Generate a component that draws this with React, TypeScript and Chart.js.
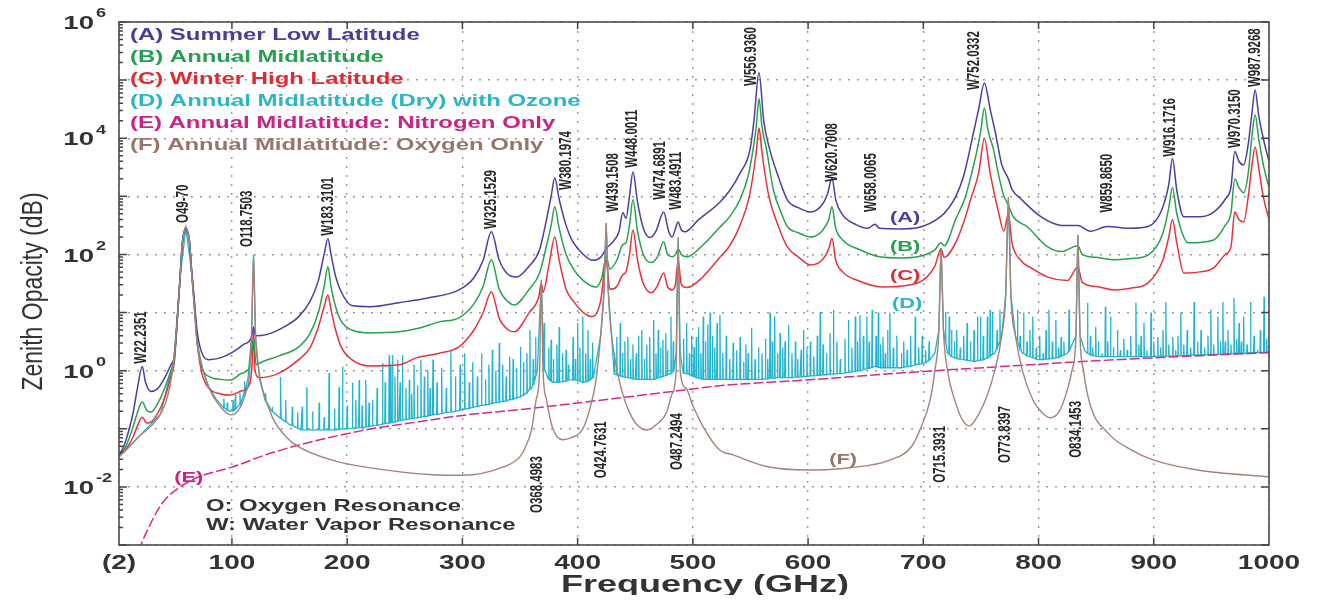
import React, { useEffect, useRef } from 'react';
import { Chart, registerables } from 'chart.js';
Chart.register(...registerables);

// ---------- axis ticks ----------
const X_TICKS = [2, 100, 200, 300, 400, 500, 600, 700, 800, 900, 1000];
const X_TICK_LABELS = ['(2)', '100', '200', '300', '400', '500', '600', '700', '800', '900', '1000'];
const Y_DECADE_EXP = [-3, -2, -1, 0, 1, 2, 3, 4, 5, 6];
const Y_LABEL_EXP = [-2, 0, 2, 4, 6];

// ---------- series labels / colours ----------
const SERIES_LABELS = [
  '(A) Summer Low Latitude',
  '(B) Annual Midlatitude',
  '(C) Winter High Latitude',
  '(D) Annual Midlatitude (Dry) with Ozone',
  '(E) Annual Midlatitude: Nitrogen Only',
  '(F) Annual Midlatitude: Oxygen Only',
];
const SERIES_COLORS = ['#4b3ea0', '#27a24c', '#e5333b', '#1fb4cf', '#d42a8c', '#a4837a'];
const LEGEND_COLORS = ['#4a3c9a', '#25a050', '#dd2b33', '#2bb5c9', '#cc2288', '#97756a'];

// ---------- series values: [frequency GHz, log10(opacity dB)] ----------
const A_LOG = [[2,-1.48],[8,-1.2],[14,-0.75],[18,-0.3],[22.2,0.07],[25,-0.2],[30,-0.36],[36,-0.3],[42,-0.11],[47,0.1],[50,0.25],[53,1.0],[55,1.6],[57,2.2],[59,2.42],[60,2.46],[61,2.42],[63,2.25],[65,1.75],[67,1.3],[70,0.65],[74,0.3],[80,0.19],[90,0.22],[100,0.31],[110,0.45],[117,0.58],[118.75,0.75],[120.5,0.6],[130,0.62],[145,0.75],[158,0.93],[168,1.2],[175,1.55],[180,2.0],[183.3,2.27],[186,2.0],[190,1.62],[195,1.35],[204,1.12],[220,1.1],[245,1.17],[270,1.25],[297,1.39],[310,1.6],[318,1.9],[325.15,2.39],[332,1.9],[340,1.65],[347,1.61],[358,1.8],[367,2.08],[373,2.6],[377,3.0],[380.2,3.32],[384,2.95],[390,2.5],[395,2.25],[405,2.0],[413,1.9],[420,1.95],[424.8,2.1],[432,2.25],[436,2.4],[439.15,2.72],[442,2.62],[445,3.0],[448,3.42],[452,2.9],[457,2.45],[463,2.29],[468,2.4],[474.7,2.73],[479,2.4],[482,2.3],[485,2.45],[487.2,2.56],[490,2.42],[493,2.39],[505,2.6],[523,2.89],[532,3.1],[541,3.4],[549.6,3.8],[553,4.3],[557.4,5.13],[561.5,4.3],[566.8,3.8],[574,3.35],[582,2.94],[592,2.8],[602,2.73],[612,2.85],[617,3.05],[620.7,3.32],[624,2.94],[630,2.68],[642,2.51],[652,2.45],[658,2.52],[662,2.45],[680,2.44],[695,2.46],[715,2.65],[722,2.8],[728,2.99],[735,3.35],[743.5,4.09],[748,4.5],[753,4.95],[758,4.5],[762.6,4.09],[768,3.55],[773.8,3.3],[777,3.12],[785,2.95],[802,2.65],[820,2.5],[834.1,2.5],[845,2.4],[859.9,2.48],[880,2.45],[895,2.48],[907,2.77],[913,3.2],[916.2,3.65],[920,3.1],[926,2.65],[940,2.65],[952,2.73],[962,2.95],[967,3.16],[970.3,3.77],[974,3.6],[978,3.54],[982,3.9],[985,4.4],[988,4.83],[991,4.4],[995,4.0],[1000,3.6]];

const B_LOG = [[2,-1.48],[8,-1.3],[14,-0.98],[18,-0.72],[22.2,-0.54],[26,-0.68],[30,-0.71],[36,-0.55],[42,-0.28],[47,0.0],[50,0.2],[53,1.0],[55,1.6],[57,2.2],[59,2.42],[60,2.46],[61,2.42],[63,2.25],[65,1.72],[67,1.25],[70,0.5],[74,0.05],[80,-0.1],[90,-0.15],[99,-0.16],[108,-0.05],[115,0.05],[118.75,0.55],[121,0.1],[126,0.15],[140,0.25],[158,0.41],[168,0.65],[175,1.0],[180,1.45],[183.3,1.79],[186,1.45],[190,1.1],[195,0.85],[204,0.7],[220,0.65],[245,0.67],[260,0.72],[280,0.84],[297,0.91],[310,1.15],[318,1.45],[325.15,1.91],[332,1.4],[340,1.18],[345,1.13],[358,1.4],[367,1.68],[373,2.15],[377,2.5],[380.2,2.82],[384,2.45],[390,2.0],[397,1.73],[405,1.55],[416,1.44],[421,1.6],[424.8,1.96],[428,1.75],[434,1.9],[439.15,2.17],[442,2.2],[445,2.5],[448,2.94],[452,2.4],[457,2.0],[464,1.86],[469,1.95],[474.7,2.22],[478,2.0],[482,1.96],[485,2.0],[487.25,2.1],[490,2.0],[495,1.96],[508,2.15],[523,2.46],[532,2.65],[541,2.95],[548,3.35],[552.2,3.8],[555,4.2],[557.4,4.68],[560,4.2],[564,3.8],[570,3.1],[576,2.75],[582,2.48],[592,2.37],[602,2.3],[612,2.4],[618,2.6],[620.7,2.82],[624,2.45],[630,2.25],[645,2.08],[662,1.96],[680,1.94],[695,1.96],[710,2.08],[715.4,2.2],[718,2.15],[728,2.6],[736.5,2.99],[742,3.4],[746.7,3.8],[750,4.15],[753,4.52],[756,4.15],[761,3.8],[765,3.4],[770,3.0],[773.8,2.85],[778,2.65],[790,2.48],[808,2.13],[820,2.05],[834.1,2.15],[838,2.0],[850,1.95],[866,1.91],[880,1.93],[895,1.99],[908,2.37],[913,2.8],[916.2,3.15],[920,2.7],[930,2.2],[952,2.25],[962,2.5],[967,2.72],[970.3,3.3],[974,3.15],[978,3.06],[982,3.4],[985,4.0],[988,4.4],[991,4.0],[995,3.55],[1000,3.15]];

const C_LOG = [[2,-1.48],[8,-1.35],[14,-1.15],[18,-0.95],[22.2,-0.8],[26,-0.9],[30,-0.88],[36,-0.72],[42,-0.45],[47,-0.1],[50,0.15],[53,1.0],[55,1.6],[57,2.2],[59,2.42],[60,2.46],[61,2.42],[63,2.25],[65,1.7],[67,1.2],[70,0.45],[74,-0.05],[80,-0.3],[90,-0.4],[99,-0.42],[108,-0.35],[115,-0.25],[117.5,0.1],[118.75,0.7],[120,0.0],[124,-0.12],[140,-0.05],[158,0.19],[168,0.4],[175,0.75],[180,1.1],[183.3,1.3],[186,1.05],[190,0.7],[195,0.4],[204,0.19],[220,0.08],[245,0.1],[260,0.22],[280,0.3],[297,0.41],[310,0.7],[318,1.0],[325.15,1.36],[332,0.9],[340,0.7],[345,0.67],[358,1.0],[366,1.25],[368.5,1.5],[370,1.35],[375,1.8],[380.2,2.3],[384,1.9],[390,1.4],[397,1.18],[405,1.0],[413,0.93],[420,1.2],[424.8,1.9],[428,1.4],[434,1.45],[439.15,1.65],[442,1.7],[445,2.0],[448,2.42],[452,1.9],[457,1.5],[464,1.34],[469,1.45],[474.7,1.68],[478,1.45],[482,1.39],[485,1.5],[487.25,1.9],[490,1.48],[495,1.43],[508,1.6],[523,1.94],[532,2.15],[541,2.5],[549,3.0],[555,3.75],[557.4,4.18],[560,3.75],[566,3.0],[574,2.5],[582,2.13],[592,1.95],[602,1.82],[612,1.9],[618,2.1],[620.7,2.28],[624,1.9],[630,1.7],[642,1.56],[665,1.44],[695,1.51],[710,1.8],[715.4,2.1],[718,1.95],[728,2.2],[735,2.55],[741,2.94],[748,3.4],[753,4.0],[758,3.4],[765,2.75],[770,2.4],[773.8,2.7],[777,2.2],[784,1.91],[795,1.75],[808,1.61],[825,1.55],[834.1,1.78],[838,1.52],[850,1.45],[865,1.39],[880,1.42],[895,1.51],[908,1.91],[913,2.3],[916.2,2.6],[920,2.2],[926,1.68],[940,1.7],[952,1.77],[962,2.0],[967,2.13],[970.3,2.73],[974,2.6],[978,2.56],[982,3.0],[985,3.5],[988,3.85],[991,3.5],[995,3.0],[1000,2.6]];

const D_BASE_LOG = [[2,-1.48],[20,-1.12],[38,-0.75],[49.6,0.19],[55,1.6],[60,2.46],[65,1.7],[70,0.45],[75,0.0],[80,-0.28],[86,-0.48],[92,-0.62],[98,-0.7],[104,-0.64],[110,-0.42],[114,-0.12],[117,0.6],[118.75,1.99],[120.5,0.6],[124,-0.15],[129,-0.52],[135,-0.7],[142,-0.82],[150,-0.93],[160,-1.02],[187,-1.02],[216,-0.97],[245,-0.86],[274,-0.76],[300,-0.66],[330,-0.55],[350,-0.45],[360,-0.3],[365,0.0],[368.5,1.56],[372,0.0],[380,-0.2],[393,-0.16],[405,-0.2],[414,-0.08],[420,0.6],[423,1.4],[424.76,2.54],[426.5,1.4],[429.5,0.6],[436,-0.08],[450,-0.15],[465,-0.15],[480,-0.05],[485.5,0.3],[487.25,2.29],[489,0.3],[495,-0.05],[510,-0.15],[550,-0.15],[593,-0.11],[630,-0.05],[657,0.07],[680,0.05],[700,0.12],[710,0.3],[713.5,0.7],[715.39,2.11],[717.5,0.7],[721,0.3],[730,0.2],[745,0.16],[762,0.3],[768,0.6],[771.5,1.3],[773.84,2.99],[776,1.3],[780,0.6],[786,0.3],[800,0.19],[825,0.3],[832.5,0.6],[834.15,2.34],[836,0.6],[840,0.35],[851,0.24],[895,0.24],[950,0.28],[1000,0.32]];

// ozone / weak lines of (D): [frequency, foot log10, top log10]
const D_SPIKES_LOG = [[93,-0.64,-0.48],[96,-0.68,-0.55],[101,-0.69,-0.5],[103,-0.66,-0.42],[107,-0.58,-0.38],[111,-0.38,-0.18],
[129.3,-0.52,-0.38],[135,-0.7,-0.62],[142.3,-0.82,-0.11],[146.7,-0.88,-0.5],[152.4,-0.94,-0.62],[157,-0.99,-0.72],[161,-1.02,-0.62],[165,-1.02,-0.28],[170,-1.02,-0.7],[175.7,-1.02,-0.55],[180,-1.02,-0.8],[184.3,-1.02,-0.04],[189,-1.02,-0.65],[193,-1.01,-0.28],[196,-1.0,0.07],[200,-1.0,-0.6],[204.6,-0.99,-0.21],[207.5,-0.99,-0.5],[210.4,-0.98,-0.16],[213,-0.98,-0.6],[216.3,-0.97,-0.16],[219,-0.96,-0.55],[222,-0.95,-0.5],[226,-0.94,-0.3],[230.7,-0.92,0.13],[233,-0.91,-0.2],[236.5,-0.9,0.27],[238,-0.89,0.1],[239.4,-0.89,0.27],[241.5,-0.88,-0.1],[243.7,-0.87,0.19],[246,-0.86,-0.2],[248,-0.85,0.27],[251,-0.84,-0.3],[254,-0.83,-0.16],[256,-0.82,-0.4],[258,-0.82,0.1],[261,-0.81,-0.25],[264,-0.8,0.19],[267,-0.79,-0.1],[270,-0.78,0.01],[272,-0.77,-0.3],[274.5,-0.76,0.19],
[278,-0.75,-0.2],[282,-0.74,0.05],[286,-0.72,-0.3],[290,-0.71,0.36],[294,-0.7,-0.1],[298,-0.68,0.1],[302,-0.66,0.3],[306,-0.65,-0.2],[309,-0.63,0.15],[313,-0.61,-0.1],[316.6,-0.6,0.3],[320,-0.59,-0.15],[323,-0.58,0.1],[326,-0.56,0.36],[329,-0.55,0.0],[332,-0.54,0.48],[335,-0.53,0.1],[338,-0.52,-0.1],[341,-0.5,0.24],[344,-0.49,0.2],[347,-0.47,0.05],[350.5,-0.45,0.41],[353,-0.42,0.15],[356,-0.38,0.3],[358.6,-0.32,0.7],[361.5,-0.25,0.2],[363.5,-0.1,0.58],[371,0.0,0.82],[375,-0.15,0.4],[377,-0.18,0.53],[379,-0.2,0.2],[382,-0.2,0.45],[384,-0.2,0.75],[387,-0.19,0.3],[390,-0.18,0.36],[392,-0.16,0.1],[396,-0.16,0.58],[398,-0.16,0.2],[400,-0.17,0.82],[402,-0.18,0.4],[404.5,-0.2,0.93],[407,-0.19,0.3],[409,-0.18,0.7],[411,-0.15,0.2],[413,-0.12,0.48],
[432,-0.05,0.3],[434,-0.07,0.58],[437,-0.09,0.82],[439,-0.1,0.3],[441,-0.11,0.5],[443.6,-0.12,0.58],[446,-0.13,0.2],[448,-0.14,0.45],[451,-0.15,0.3],[453,-0.15,0.6],[455.7,-0.15,0.7],[458,-0.15,0.2],[460,-0.15,0.45],[462.6,-0.15,0.58],[466,-0.15,0.87],[468,-0.14,0.3],[470,-0.12,0.7],[472,-0.11,0.4],[474,-0.1,0.53],[476.5,-0.08,0.65],[478,-0.07,0.35],[481,-0.05,0.93],[483,-0.02,0.5],
[492,-0.04,0.55],[494.6,-0.05,0.82],[497,-0.07,0.3],[499,-0.09,0.6],[501,-0.1,0.4],[503,-0.12,0.58],[505,-0.13,0.75],[507,-0.14,0.3],[509,-0.15,0.93],[511,-0.15,0.5],[513,-0.15,0.8],[515,-0.15,1.0],[517,-0.15,0.6],[519,-0.15,0.4],[521,-0.15,0.82],[523.5,-0.15,0.96],[526,-0.15,0.3],[529,-0.15,0.6],[532,-0.15,0.2],[535,-0.15,0.48],[538,-0.15,0.35],[541,-0.15,0.58],[544,-0.15,0.15],[546,-0.15,0.45],[548,-0.15,0.3],[551,-0.15,0.74],[554,-0.15,0.2],[557,-0.15,0.4],
[560,-0.15,0.3],[563,-0.14,0.55],[565,-0.14,0.2],[567,-0.13,1.0],[569,-0.13,0.5],[571,-0.13,0.93],[573.5,-0.12,0.3],[575.7,-0.12,0.65],[578,-0.12,0.4],[580,-0.12,0.5],[583,-0.12,0.79],[586,-0.12,0.3],[589,-0.11,0.5],[591,-0.11,0.2],[594,-0.11,0.36],[596,-0.1,0.7],[599,-0.1,0.4],[602,-0.09,0.5],[605,-0.09,0.25],[608,-0.08,0.6],[610.5,-0.08,1.01],[613,-0.07,0.45],[616,-0.07,0.3],[619,-0.06,0.65],[622,-0.06,1.05],[625,-0.05,0.5],[628,-0.05,0.2],[632,-0.04,0.55],[635,-0.03,0.87],[638,-0.02,0.4],[641,-0.01,0.93],[643,0.0,0.5],[645,0.0,0.96],[648,0.02,0.6],[651,0.03,0.93],[653,0.04,0.5],[655.6,0.06,1.05],[659,0.07,0.6],[661,0.06,1.0],[663,0.05,0.45],[665,0.05,0.58],[667,0.05,0.3],[669,0.05,0.7],[671,0.05,1.0],[674,0.05,0.4],[677,0.05,0.6],[681,0.05,0.3],[683,0.06,0.5],[686,0.07,0.36],[689,0.08,0.6],[693,0.1,0.93],[696,0.11,0.4],[699,0.12,0.6],[702,0.14,0.35],[705,0.18,0.5],
[719.3,0.5,1.01],[722.5,0.28,0.93],[724.5,0.24,0.7],[727,0.22,0.5],[729,0.21,0.7],[732,0.2,0.4],[735,0.19,0.6],[738,0.18,0.82],[741,0.17,0.5],[744,0.16,0.7],[747,0.17,0.93],[749.6,0.18,0.93],[752,0.19,0.6],[755.6,0.22,0.93],[758,0.25,1.05],[760,0.28,1.0],[764,0.4,0.7],[766.5,0.5,1.05],
[781.7,0.5,1.05],[784,0.38,0.6],[787,0.3,1.0],[790,0.26,0.5],[792.5,0.24,0.7],[795,0.22,0.93],[798,0.2,0.4],[801,0.19,0.6],[804,0.19,0.3],[806.5,0.2,0.7],[809,0.2,1.05],[812,0.21,0.5],[815,0.22,0.87],[817.5,0.23,0.4],[819.6,0.25,0.58],[822,0.27,0.5],[826.5,0.35,1.05],
[842.5,0.3,1.17],[845,0.27,0.6],[847,0.26,0.4],[849.6,0.25,0.75],[852,0.24,0.5],[855,0.24,0.3],[858,0.24,1.1],[860,0.24,0.5],[862.5,0.24,0.93],[865,0.24,0.4],[868.5,0.24,0.7],[871,0.24,0.35],[874,0.24,0.55],[877,0.24,0.36],[880,0.24,0.6],[884.5,0.24,1.17],[887,0.24,0.45],[889,0.24,0.6],[891.5,0.24,0.82],[894,0.24,0.35],[897.6,0.24,1.0],[900,0.24,0.5],[903.5,0.25,0.58],[906,0.25,0.4],[908,0.25,0.7],[910.5,0.25,1.18],[913,0.25,0.45],[916.5,0.25,0.58],[919,0.25,0.35],[921,0.26,0.6],[923.5,0.26,1.0],[926,0.26,0.45],[929,0.26,0.7],[932,0.27,0.4],[935,0.27,1.18],[938,0.27,0.5],[941,0.27,0.7],[944,0.27,0.4],[947,0.28,0.6],[949.5,0.28,1.05],[952,0.28,0.45],[955.6,0.28,0.93],[958,0.28,0.5],[960,0.29,1.18],[962,0.29,0.5],[964.4,0.29,0.7],[967,0.29,0.45],[969.6,0.3,1.25],[972,0.3,0.55],[974,0.3,0.82],[976,0.3,0.5],[978,0.3,0.93],[981,0.3,0.45],[984,0.31,1.18],[987,0.31,0.6],[990,0.31,0.36],[992.5,0.31,0.7],[995.7,0.32,1.27],[998,0.32,0.55]];

const E_LOG = [[19,-3.1],[22,-2.95],[28,-2.69],[35,-2.42],[42,-2.22],[55,-2.0],[71,-1.83],[85,-1.74],[100,-1.66],[129,-1.45],[158,-1.28],[216,-1.02],[262,-0.88],[300,-0.77],[350,-0.67],[436,-0.47],[506,-0.3],[523,-0.26],[599,-0.16],[680,-0.04],[767,0.07],[850,0.17],[920,0.24],[1000,0.31]];

const F_LOG = [[2,-1.48],[10,-1.33],[20,-1.12],[30,-0.95],[38,-0.75],[45,-0.38],[49.6,0.19],[53,1.0],[55,1.6],[57,2.2],[59,2.42],[60,2.46],[61,2.42],[63,2.25],[65,1.7],[67,1.2],[70,0.45],[75,0.0],[80,-0.3],[90,-0.62],[99,-0.76],[106,-0.67],[112,-0.38],[115,-0.11],[117,0.6],[118.75,1.99],[120.5,0.6],[123.5,0.0],[126,-0.28],[135,-0.8],[147,-1.14],[158,-1.31],[187,-1.54],[216,-1.66],[274,-1.79],[300,-1.8],[335,-1.66],[350,-1.48],[355,-1.3],[360,-1.02],[364,-0.5],[367,0.0],[368.5,1.56],[370,0.0],[373,-0.5],[378,-0.97],[387,-1.19],[395,-1.15],[404,-1.02],[410,-0.7],[416,-0.16],[420,0.6],[423,1.4],[424.76,2.54],[426.5,1.4],[429.5,0.6],[436,-0.16],[447,-0.8],[460,-1.02],[470,-0.9],[477,-0.73],[482,-0.4],[485.5,0.0],[487.25,2.29],[489,0.0],[494,-0.3],[500,-0.6],[510,-1.0],[523,-1.36],[535,-1.45],[564,-1.65],[600,-1.71],[636,-1.67],[671,-1.54],[690,-1.3],[697,-1.02],[706,-0.5],[710,0.0],[713.5,0.7],[715.39,2.11],[717.5,0.7],[721,0.0],[728,-0.55],[734,-0.85],[740,-0.95],[748,-0.75],[755,-0.45],[762,0.0],[768,0.6],[771.5,1.3],[773.84,2.99],[776,1.3],[780,0.6],[786,0.0],[795,-0.5],[803,-0.72],[810,-0.81],[818,-0.7],[825,-0.33],[829,0.0],[832.5,0.6],[834.15,2.34],[836,0.6],[839,0.0],[845,-0.6],[860,-1.07],[880,-1.36],[900,-1.54],[938,-1.71],[1000,-1.83]];

// ---------- annotations: [text, frequency, log10 value at text foot] ----------
const LINE_LABELS = [
  ['W22.2351', 21.7, 0.12], ['O49-70', 58.3, 2.54], ['O118.7503', 113.2, 2.13], ['W183.3101', 183.5, 2.32],
  ['W325.1529', 325.2, 2.44], ['W380.1974', 390.4, 3.11], ['W439.1508', 431.3, 2.73], ['W448.0011', 447.8, 3.49],
  ['W474.6891', 472.1, 2.94], ['W483.4911', 486, 2.77], ['W556.9360', 551.3, 4.9], ['W620.7008', 621.6, 3.25],
  ['W658.0065', 655.5, 2.73], ['W752.0332', 744.3, 4.83], ['W859.8650', 859.9, 2.72], ['W916.1716', 914.7, 3.68],
  ['W970.3150', 971.2, 3.83], ['W987.9268', 988.6, 4.88],
  ['O368.4983', 365.3, -2.45], ['O424.7631', 420.9, -1.85], ['O487.2494', 487, -1.71],
  ['O715.3931', 714.8, -1.93], ['O773.8397', 771.3, -1.59], ['O834.1453', 833, -1.5],
];
const CURVE_TAGS = [['(A)', 684.3, 2.63, 0], ['(B)', 684.3, 2.13, 1], ['(C)', 684.3, 1.63, 2], ['(D)', 686, 1.15, 3], ['(E)', 62.6, -1.85, 4], ['(F)', 630.4, -1.54, 5]];
const NOTE_LINES = [['O: Oxygen Resonance', 77.4, -2.34], ['W: Water Vapor Resonance', 77.4, -2.66]];
const X_TITLE = 'Frequency (GHz)';
const Y_TITLE = 'Zenith Opacity (dB)';

const toPts = (arr: number[][]) => arr.map(([f, l]) => ({ x: f, y: Math.pow(10, l) }));

function buildD() {
  const rows: number[][] = D_BASE_LOG.map((r) => [r[0], r[1]]);
  D_SPIKES_LOG.forEach(([f, b, t]) => {
    rows.push([f - 0.35, b], [f, t], [f + 0.35, b]);
  });
  rows.sort((a, b) => a[0] - b[0]);
  return toPts(rows);
}

const SANS = "'Liberation Sans', Arial, Helvetica, sans-serif";

function drawText(ctx: CanvasRenderingContext2D, s: string, x: number, y: number, font: string, color: string, align: CanvasTextAlign, sx: number, rot = 0) {
  ctx.save();
  ctx.translate(x, y);
  ctx.scale(sx, 1);
  if (rot) ctx.rotate(rot);
  ctx.font = font;
  ctx.fillStyle = color;
  ctx.textAlign = align;
  ctx.textBaseline = 'middle';
  ctx.fillText(s, 0, 0);
  ctx.restore();
}

const decor = {
  id: 'decor',
  afterDraw(chart: any) {
    const { ctx, chartArea: ca, scales } = chart;
    const xs = scales.x, ys = scales.y;
    ctx.save();
    // frame
    ctx.strokeStyle = '#4d4d4d';
    ctx.lineWidth = 1.6;
    ctx.strokeRect(ca.left, ca.top, ca.right - ca.left, ca.bottom - ca.top);
    ctx.lineWidth = 1.5;
    ctx.strokeStyle = '#444';
    ctx.beginPath();
    X_TICKS.slice(1, -1).forEach((v) => {
      const px = xs.getPixelForValue(v);
      ctx.moveTo(px, ca.bottom); ctx.lineTo(px, ca.bottom - 7);
      ctx.moveTo(px, ca.top); ctx.lineTo(px, ca.top + 7);
    });
    Y_DECADE_EXP.forEach((e) => {
      const py = ys.getPixelForValue(Math.pow(10, e));
      ctx.moveTo(ca.left, py); ctx.lineTo(ca.left + 8, py);
      ctx.moveTo(ca.right, py); ctx.lineTo(ca.right - 8, py);
      if (e < 6) {
        for (let k = 2; k <= 9; k++) {
          const pm = ys.getPixelForValue(k * Math.pow(10, e));
          ctx.moveTo(ca.left, pm); ctx.lineTo(ca.left + 4, pm);
        }
      }
    });
    ctx.stroke();

    // x tick labels
    X_TICKS.forEach((v, i) => {
      drawText(ctx, X_TICK_LABELS[i], xs.getPixelForValue(v), ca.bottom + 18, `bold 20px ${SANS}`, '#333', 'center', 1.4);
    });
    // y tick labels
    Y_LABEL_EXP.forEach((e) => {
      const py = ys.getPixelForValue(Math.pow(10, e));
      drawText(ctx, '10', ca.left - 25, py + 2, `bold 19px ${SANS}`, '#333', 'right', 1.45);
      drawText(ctx, String(e), ca.left - 23, py - 8, `bold 12.5px ${SANS}`, '#333', 'left', 1.45);
    });
    // axis titles
    drawText(ctx, X_TITLE, (ca.left + ca.right) / 2 + 11, ca.bottom + 40, `bold 24px ${SANS}`, '#333', 'center', 1.5);
    drawText(ctx, Y_TITLE, 26, (ca.top + ca.bottom) / 2 + 8, `23px ${SANS}`, '#333', 'center', 1.3, -Math.PI / 2);

    // legend (text only)
    SERIES_LABELS.forEach((lab, i) => {
      drawText(ctx, lab, ca.left + 11, ca.top + 13 + i * 22, `bold 16.5px ${SANS}`, LEGEND_COLORS[i], 'left', 1.45);
    });
    // curve tags
    CURVE_TAGS.forEach(([t, f, l, ci]: any) => {
      drawText(ctx, t, xs.getPixelForValue(f), ys.getPixelForValue(Math.pow(10, l)), `bold 15px ${SANS}`, LEGEND_COLORS[ci], 'center', 1.45);
    });
    // resonance line labels
    LINE_LABELS.forEach(([t, f, l]: any) => {
      drawText(ctx, t, xs.getPixelForValue(f), ys.getPixelForValue(Math.pow(10, l)), `bold 11.5px ${SANS}`, '#262626', 'left', 1.4, -Math.PI / 2);
    });
    // notes
    NOTE_LINES.forEach(([t, f, l]: any) => {
      drawText(ctx, t, xs.getPixelForValue(f), ys.getPixelForValue(Math.pow(10, l)), `bold 16.5px ${SANS}`, '#333', 'left', 1.45);
    });
    ctx.restore();
  },
};

export default function App() {
  const ref = useRef<HTMLCanvasElement | null>(null);
  useEffect(() => {
    if (!ref.current) return;
    const mk = (i: number, pts: any[], extra: any = {}) => ({
      label: SERIES_LABELS[i],
      data: pts,
      borderColor: SERIES_COLORS[i],
      backgroundColor: SERIES_COLORS[i],
      borderWidth: 1.5,
      pointRadius: 0,
      fill: false,
      cubicInterpolationMode: 'monotone',
      ...extra,
    });
    const chart = new Chart(ref.current, {
      type: 'line',
      data: {
        datasets: [
          mk(0, toPts(A_LOG), { order: 2 }),
          mk(1, toPts(B_LOG), { order: 3 }),
          mk(2, toPts(C_LOG), { order: 4 }),
          mk(3, buildD(), { order: 5, borderWidth: 1.3, cubicInterpolationMode: 'default', tension: 0 }),
          mk(4, toPts(E_LOG), { order: 1, borderDash: [10, 3] }),
          mk(5, toPts(F_LOG), { order: 0, borderWidth: 1.4 }),
        ] as any,
      },
      options: {
        animation: false,
        responsive: false,
        layout: { padding: { left: 111, top: 14, right: 40, bottom: 58 } },
        plugins: { legend: { display: false }, tooltip: { enabled: false } },
        scales: {
          x: {
            type: 'linear', min: 2, max: 1000,
            afterBuildTicks: (s: any) => { s.ticks = X_TICKS.map((v) => ({ value: v })); },
            ticks: { display: false },
            grid: { color: '#9a9a9a', lineWidth: 1.4, drawTicks: false },
            border: { display: false, dash: [2, 7] },
          },
          y: {
            type: 'logarithmic', min: 1e-3, max: 1e6,
            afterBuildTicks: (s: any) => { s.ticks = Y_DECADE_EXP.map((e) => ({ value: Math.pow(10, e) })); },
            ticks: { display: false },
            grid: { color: '#9a9a9a', lineWidth: 1.4, drawTicks: false },
            border: { display: false, dash: [2, 7] },
          },
        },
      } as any,
      plugins: [decor],
    });
    return () => chart.destroy();
  }, []);
  return <canvas ref={ref} width={1301} height={595} style={{ display: 'block', marginBottom: -8 }} />;
}
